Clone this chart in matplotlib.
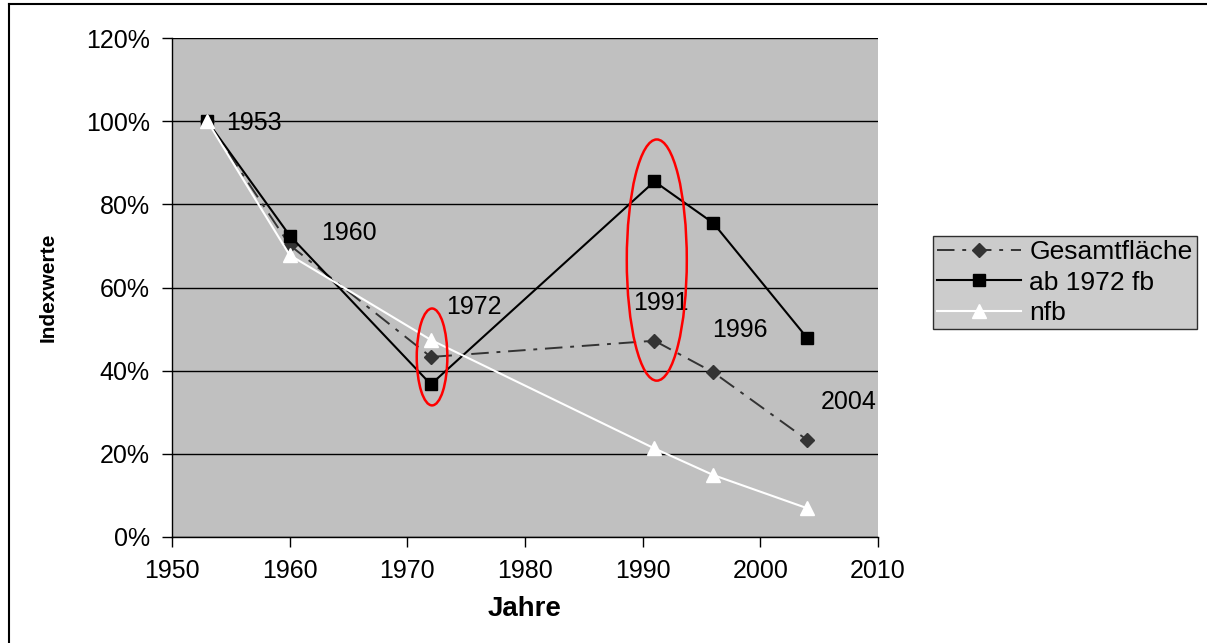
import matplotlib
matplotlib.use("Agg")
import matplotlib.pyplot as plt
from matplotlib.patches import Ellipse
from matplotlib.ticker import FuncFormatter, MultipleLocator

plt.rcParams['font.family'] = ['Liberation Sans', 'DejaVu Sans']

years = [1953, 1960, 1972, 1991, 1996, 2004]
gesamt = [100, 70.2, 43.3, 47.2, 39.6, 23.3]
ab1972_fb = [100, 72.5, 36.7, 85.5, 75.5, 47.8]
nfb = [100, 67.8, 47.4, 21.3, 14.9, 6.9]
series_names = ["Gesamtfläche", "ab 1972 fb", "nfb"]

# year labels placed next to the points
label_text = ["1953", "1960", "1972", "1991", "1996", "2004"]
label_pos = [(1954.6, 99.6), (1962.7, 73.1), (1973.3, 55.3),
             (1989.2, 56.3), (1995.9, 49.8), (2005.1, 32.5)]

# highlighted years (center x, center y, width, height)
highlights = [(1972.1, 43.3, 2.6, 23.3), (1991.2, 66.6, 5.1, 58.0)]

W, H = 1207, 643
fig = plt.figure(figsize=(W / 100, H / 100), dpi=100)
ax = fig.add_axes([172 / W, 1 - 537 / H, (878 - 172) / W, (537 - 38) / H])
ax.set_facecolor("#c0c0c0")

ax.plot(years, gesamt, color="#333333", linestyle=(0, (9, 4, 2, 4)), lw=1.4,
        marker="D", markersize=7, label=series_names[0], zorder=3)
ax.plot(years, ab1972_fb, color="black", linestyle="-", lw=1.5,
        marker="s", markersize=8, label=series_names[1], zorder=4)
ax.plot(years, nfb, color="white", linestyle="-", lw=1.5,
        marker="^", markersize=10, label=series_names[2], zorder=5)

for t, (x, y) in zip(label_text, label_pos):
    ax.text(x, y, t, fontsize=18, ha="left", va="center", color="black", zorder=6)

for cx, cy, w, h in highlights:
    ax.add_patch(Ellipse((cx, cy), w, h, fill=False, edgecolor="red", lw=1.8, zorder=7))

ax.set_xlim(1950, 2010)
ax.set_ylim(0, 120)
ax.xaxis.set_major_locator(MultipleLocator(10))
ax.yaxis.set_major_locator(MultipleLocator(20))
ax.yaxis.set_major_formatter(FuncFormatter(lambda v, p: f"{v:.0f}%"))
ax.grid(axis="y", color="black", lw=1.0)
ax.set_axisbelow(True)
ax.tick_params(axis="both", labelsize=18, direction="out", length=7, width=1)
ax.tick_params(axis="x", pad=9)
ax.tick_params(axis="y", pad=9)
for s in ["top", "right"]:
    ax.spines[s].set_visible(False)
for s in ["left", "bottom"]:
    ax.spines[s].set_color("black")
    ax.spines[s].set_linewidth(1)

ax.set_xlabel("Jahre", fontsize=20, fontweight="bold", labelpad=9)
ax.set_ylabel("Indexwerte", fontsize=15, fontweight="bold", labelpad=20)

leg = fig.legend(loc="upper left", bbox_to_anchor=(933 / W, 1 - 236 / H),
                 fontsize=19, frameon=True, fancybox=False, handlelength=3.2,
                 borderpad=0.15, labelspacing=0.25, handletextpad=0.3,
                 borderaxespad=0)
leg.get_frame().set_facecolor("#c0c0c0")
leg.get_frame().set_edgecolor("black")
leg.get_frame().set_linewidth(1)

# outer chart frame
fig.add_artist(plt.Line2D([9 / W, 1.0], [1 - 4 / H, 1 - 4 / H], color="black", lw=1.5))
fig.add_artist(plt.Line2D([9 / W, 9 / W], [1 - 4 / H, 0.0], color="black", lw=1.5))

fig.savefig("out.png", dpi=100)
